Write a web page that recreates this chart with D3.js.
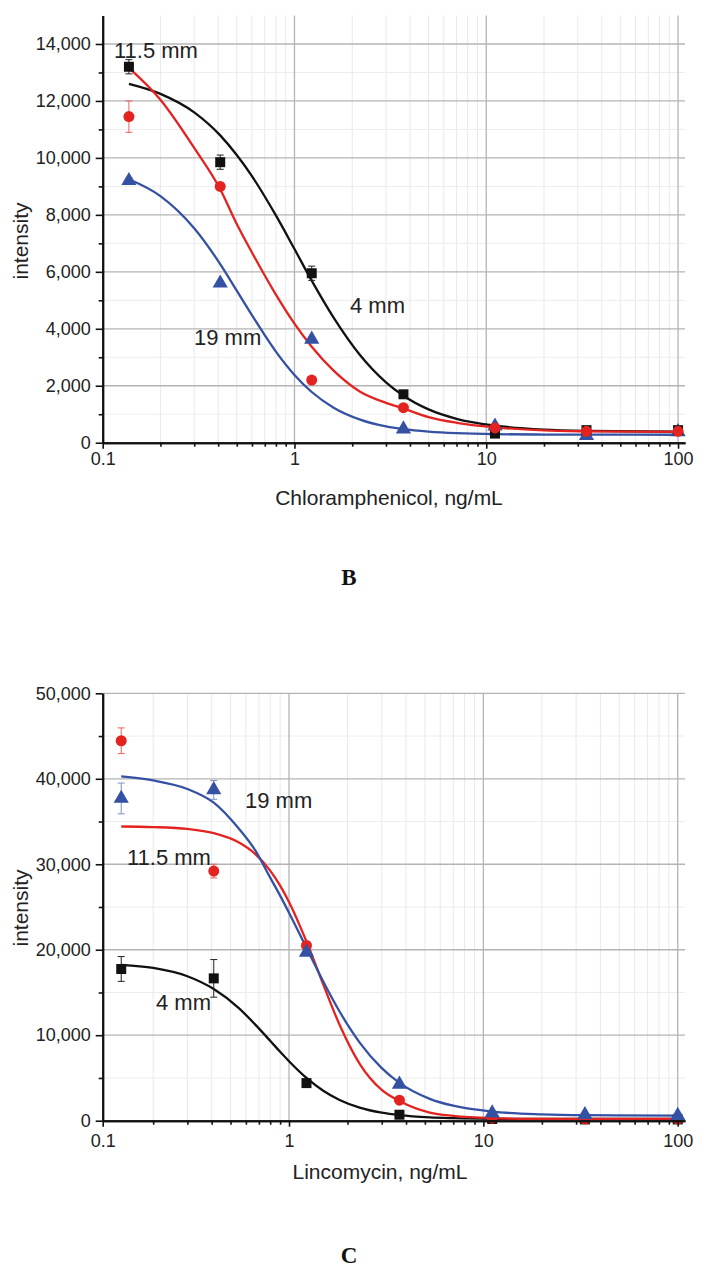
<!DOCTYPE html>
<html><head><meta charset="utf-8">
<script src="https://cdn.jsdelivr.net/npm/d3@7"></script>
<style>html,body{margin:0;padding:0;background:#fff;}svg{display:block;}</style>
</head><body>
<svg id="chart" width="709" height="1274"></svg>
<script>
// ---------- DATA ----------
const seriesNames = ["4 mm", "11.5 mm", "19 mm"];
const concentrations = [0.137, 0.41, 1.23, 3.7, 11.1, 33.3, 100];
const xTickLabels = ["0.1", "1", "10", "100"];

// Panel B: Chloramphenicol
const chlorY_4mm   = [13200, 9850, 5950, 1700, 320, 440, 440];
const chlorErr_4mm = [250, 250, 250, 80, 60, 60, 60];
const chlorY_11mm   = [11450, 9000, 2200, 1230, 520, 400, 400];
const chlorErr_11mm = [550, 120, 80, 80, 50, 50, 50];
const chlorY_19mm   = [9200, 5600, 3630, 480, 580, 250, 380];
const chlorErr_19mm = [100, 80, 80, 50, 50, 50, 50];
const chlorYTicks = [0, 2000, 4000, 6000, 8000, 10000, 12000, 14000];
const chlorCurveX = [0.137, 0.2, 0.3, 0.41, 0.5, 0.6, 0.8, 1.0, 1.23, 1.6, 2.2, 3, 3.7, 5, 7, 11.1, 20, 33.3, 100];
const chlorCurve_4mm  = [12600, 12250, 11600, 10790, 10100, 9360, 7980, 6800, 5690, 4390, 3070, 2120, 1650, 1170, 840, 600, 460, 415, 385];
const chlorCurve_11mm = [13160, 12040, 10350, 8900, 7680, 6680, 5200, 4180, 3370, 2530, 1790, 1400, 1200, 900, 700, 540, 430, 400, 380];
const chlorCurve_19mm = [9250, 8660, 7530, 6270, 5340, 4480, 3200, 2380, 1780, 1230, 810, 570, 475, 390, 335, 300, 287, 283, 280];

// Panel C: Lincomycin
const lincY_4mm   = [17750, 16650, 4400, 700, 200, 150, 150];
const lincErr_4mm = [1450, 2200, 200, 150, 100, 100, 100];
const lincY_11mm   = [44450, 29200, 20500, 2400, 300, 200, 200];
const lincErr_11mm = [1500, 800, 300, 200, 100, 100, 100];
const lincY_19mm   = [37700, 38700, 19700, 4250, 900, 700, 600];
const lincErr_19mm = [1800, 1100, 300, 200, 100, 100, 100];
const lincYTicks = [0, 10000, 20000, 30000, 40000, 50000];
const lincCurveX = [0.137, 0.2, 0.3, 0.41, 0.55, 0.667, 0.8, 0.9, 1.0, 1.23, 1.5, 1.82, 2.31, 3, 3.7, 5.3, 7, 11.1, 20, 33.3, 100];
const lincCurve_4mm  = [18240, 17870, 16900, 15400, 13200, 11300, 9350, 8060, 6960, 5000, 3500, 2430, 1530, 935, 650, 390, 300, 230, 210, 205, 200];
const lincCurve_11mm = [34420, 34350, 34130, 33640, 32570, 31240, 29250, 27500, 25590, 20960, 15940, 11230, 6660, 3600, 2300, 950, 560, 300, 212, 205, 200];
const lincCurve_19mm = [40280, 39800, 38800, 37200, 34200, 31700, 28440, 26330, 24330, 20210, 16290, 12780, 9140, 6150, 4430, 2560, 1750, 1065, 745, 650, 605];

// ---------- STYLE ----------
const FONT = "'Liberation Sans', Arial, Helvetica, sans-serif";
const colors = ["#111111", "#e42320", "#3451a3"];
const errColors = ["#222222", "#e8605c", "#7f8fc4"];
const shapes = [d3.symbolSquare, d3.symbolCircle, d3.symbolTriangle];
const shapeSizes = [100, 95, 100];

const svg = d3.select("#chart");

function minorDecades(lo, hi) {
  const out = [];
  for (let d = 0.1; d <= 100; d *= 10) {
    for (let k = 1; k <= 9; k++) {
      const v = +(d * k).toPrecision(3);
      if (v >= lo && v <= hi) out.push(v);
    }
  }
  return out;
}

function drawPanel(p) {
  const g = svg.append("g");
  const x = d3.scaleLog().domain(p.xDomain).range([p.left, p.right]);
  const y = d3.scaleLinear().domain(p.yDomain).range([p.bottom, p.top]);
  const allX = minorDecades(p.xDomain[0], p.xDomain[1]);
  const majorX = allX.filter(v => [0.1, 1, 10, 100].includes(v));
  const minorX = allX.filter(v => ![0.1, 1, 10, 100].includes(v));
  const minorY = p.yTicks.slice(0, -1).map((v, i) => (v + p.yTicks[i + 1]) / 2);

  // grid
  const grid = g.append("g");
  grid.selectAll(".gxm").data(minorX).join("line")
    .attr("x1", d => x(d)).attr("x2", d => x(d)).attr("y1", p.top).attr("y2", p.bottom)
    .attr("stroke", "#e9e9e9").attr("stroke-width", 1);
  grid.selectAll(".gym").data(minorY).join("line")
    .attr("x1", p.left).attr("x2", p.right).attr("y1", d => y(d)).attr("y2", d => y(d))
    .attr("stroke", "#ececec").attr("stroke-width", 1);
  grid.selectAll(".gxM").data(majorX.filter(v => v > p.xDomain[0])).join("line")
    .attr("x1", d => x(d)).attr("x2", d => x(d)).attr("y1", p.top).attr("y2", p.bottom)
    .attr("stroke", "#b4b4b4").attr("stroke-width", 1.3);
  grid.selectAll(".gyM").data(p.yTicks.filter(v => v > 0)).join("line")
    .attr("x1", p.left).attr("x2", p.right).attr("y1", d => y(d)).attr("y2", d => y(d))
    .attr("stroke", "#b4b4b4").attr("stroke-width", 1.3);

  // curves
  const line = d3.line().x(d => x(d[0])).y(d => y(d[1])).curve(d3.curveMonotoneX);
  p.curveOrder.forEach(i => {
    const pts = p.curveX.map((cx, j) => [cx, p.curves[i][j]]);
    g.append("path").attr("d", line(pts)).attr("fill", "none")
      .attr("stroke", colors[i]).attr("stroke-width", 2.3);
  });

  // error bars + markers
  p.curveOrder.forEach(i => {
    const eg = g.append("g");
    concentrations.forEach((c, j) => {
      const v = p.values[i][j], e = p.errs[i][j];
      const cx = x(c);
      eg.append("line").attr("x1", cx).attr("x2", cx).attr("y1", y(v - e)).attr("y2", y(v + e))
        .attr("stroke", errColors[i]).attr("stroke-width", 1);
      [v - e, v + e].forEach(w => eg.append("line").attr("x1", cx - 3.5).attr("x2", cx + 3.5)
        .attr("y1", y(w)).attr("y2", y(w)).attr("stroke", errColors[i]).attr("stroke-width", 1));
    });
    g.append("g").selectAll("path").data(concentrations).join("path")
      .attr("transform", (c, j) => `translate(${x(c)},${y(p.values[i][j])})`)
      .attr("d", d3.symbol().type(shapes[i]).size(shapeSizes[i]))
      .attr("fill", colors[i]);
  });

  // axes
  const yAxis = d3.axisLeft(y).tickValues(p.yTicks).tickFormat(d3.format(",")).tickSize(7).tickPadding(5).tickSizeOuter(0);
  const yMinor = d3.axisLeft(y).tickValues(minorY).tickFormat("").tickSize(4).tickSizeOuter(0);
  const xAxis = d3.axisBottom(x).tickValues(p.xTickValues).tickFormat((d, i) => xTickLabels[i]).tickSize(6).tickPadding(p.xPad).tickSizeOuter(0);
  const xMinor = d3.axisBottom(x).tickValues(minorX).tickFormat("").tickSize(4).tickSizeOuter(0);

  g.append("g").attr("transform", `translate(${p.left},0)`).call(yAxis);
  g.append("g").attr("transform", `translate(${p.left},0)`).call(yMinor);
  g.append("g").attr("transform", `translate(0,${p.bottom})`).call(xAxis);
  g.append("g").attr("transform", `translate(0,${p.bottom})`).call(xMinor);
  g.selectAll(".domain").attr("stroke", "#111").attr("stroke-width", 2);
  g.selectAll(".tick line").attr("stroke", "#111").attr("stroke-width", 1.6);
  g.selectAll(".tick text").attr("font-family", FONT).attr("font-size", 18).attr("fill", "#222");

  // titles
  g.append("text").attr("x", p.xTitleX).attr("y", p.xTitleY).attr("text-anchor", "middle")
    .attr("font-family", FONT).attr("font-size", 21).attr("fill", "#222").text(p.xTitle);
  g.append("text").attr("transform", `translate(${p.yTitleX},${p.yTitleY}) rotate(-90)`)
    .attr("text-anchor", "middle").attr("dominant-baseline", "central")
    .attr("font-family", FONT).attr("font-size", 21).attr("fill", "#222").text("intensity");

  // series annotations
  p.annot.forEach(a => g.append("text").attr("x", a.x).attr("y", a.y)
    .attr("font-family", FONT).attr("font-size", 22).attr("fill", "#222").text(seriesNames[a.s]));

  g.append("text").attr("x", 349).attr("y", p.letterY).attr("text-anchor", "middle")
    .attr("font-family", "'Liberation Serif', 'Times New Roman', serif").attr("font-weight", "bold")
    .attr("font-size", 23).attr("fill", "#111").text(p.letter);
}

drawPanel({
  xDomain: [0.1, 108.7], yDomain: [0, 15000], left: 102.7, right: 685, top: 15.5, bottom: 442.7,
  yTicks: chlorYTicks, xTickValues: [0.1, 1, 10, 100], xPad: 4,
  curveX: chlorCurveX, curves: [chlorCurve_4mm, chlorCurve_11mm, chlorCurve_19mm],
  values: [chlorY_4mm, chlorY_11mm, chlorY_19mm], errs: [chlorErr_4mm, chlorErr_11mm, chlorErr_19mm],
  curveOrder: [2, 0, 1],
  xTitle: "Chloramphenicol, ng/mL", xTitleX: 389, xTitleY: 505,
  yTitleX: 20, yTitleY: 241,
  annot: [{s: 1, x: 114, y: 58}, {s: 0, x: 350, y: 313}, {s: 2, x: 194, y: 345}],
  letter: "B", letterY: 585
});

drawPanel({
  xDomain: [0.11, 109], yDomain: [0, 50000], left: 102.7, right: 685, top: 693.3, bottom: 1120.7,
  yTicks: lincYTicks, xTickValues: [0.11, 1, 10, 100], xPad: 8,
  curveX: lincCurveX, curves: [lincCurve_4mm, lincCurve_11mm, lincCurve_19mm],
  values: [lincY_4mm, lincY_11mm, lincY_19mm], errs: [lincErr_4mm, lincErr_11mm, lincErr_19mm],
  curveOrder: [0, 1, 2],
  xTitle: "Lincomycin, ng/mL", xTitleX: 380, xTitleY: 1179,
  yTitleX: 20, yTitleY: 908,
  annot: [{s: 2, x: 245, y: 808}, {s: 1, x: 127, y: 865}, {s: 0, x: 156, y: 1010}],
  letter: "C", letterY: 1263
});
</script>
</body></html>
